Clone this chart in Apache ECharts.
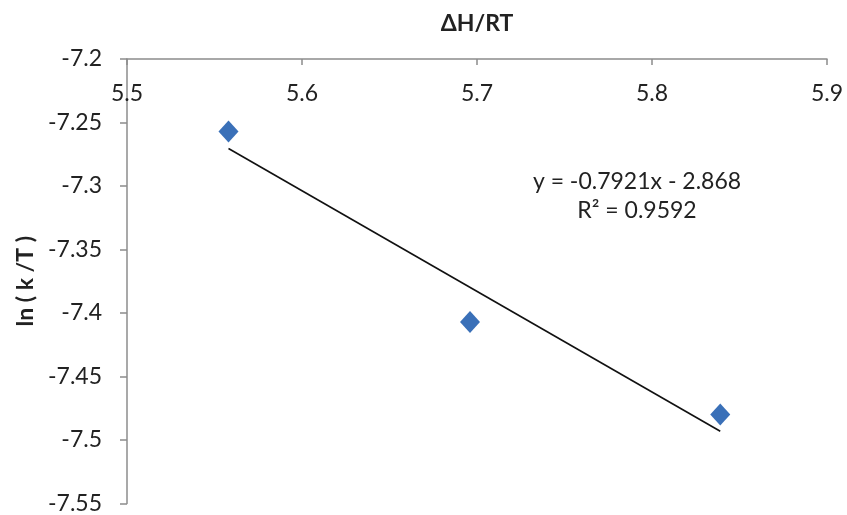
<!DOCTYPE html>
<html>
<head>
<meta charset="utf-8">
<script src="https://cdn.jsdelivr.net/npm/echarts@6/dist/echarts.min.js"></script>
<style>html,body{margin:0;padding:0;background:#fff;}#c{width:847px;height:515px;}</style>
</head>
<body>
<div id="c"></div>
<script>
var xValues = [5.558, 5.696, 5.839];
var yValues = [-7.257, -7.407, -7.480];
var trendSlope = -0.7921;
var trendIntercept = -2.868;
var equationText = 'y = -0.7921x - 2.868';
var r2Text = 'R² = 0.9592';

var pts = xValues.map(function (x, i) { return [x, yValues[i]]; });
var xMin = Math.min.apply(null, xValues), xMax = Math.max.apply(null, xValues);
var trend = [[xMin, trendSlope * xMin + trendIntercept], [xMax, trendSlope * xMax + trendIntercept]];

var FONT = 'Lato, "Open Sans", sans-serif';
var FS = 23;
var chart = echarts.init(document.getElementById('c'), null, {renderer: 'canvas'});
chart.setOption({
  animation: false,
  backgroundColor: '#fff',
  grid: {left: 127, top: 59, right: 20, bottom: 9, containLabel: false},
  xAxis: {
    type: 'value', position: 'top', min: 5.5, max: 5.9, interval: 0.1,
    name: 'ΔH/RT', nameLocation: 'middle', nameGap: 24,
    nameTextStyle: {fontFamily: FONT, fontWeight: 'bold', fontSize: FS, color: '#222'},
    axisLine: {show: true, lineStyle: {color: '#8c8c8c', width: 1.5}},
    axisTick: {show: true, inside: true, length: 6, lineStyle: {color: '#8c8c8c', width: 1.5}},
    axisLabel: {inside: true, margin: 23, fontFamily: FONT, fontSize: FS, color: '#222',
      formatter: function (v) { return v.toFixed(1); }},
    splitLine: {show: false}
  },
  yAxis: {
    type: 'value', min: -7.55, max: -7.2, interval: 0.05,
    name: 'ln ( k /T )', nameLocation: 'middle', nameGap: 88, nameRotate: 90,
    nameTextStyle: {fontFamily: FONT, fontWeight: 'bold', fontSize: FS, color: '#222'},
    axisLine: {show: true, lineStyle: {color: '#8c8c8c', width: 1.5}},
    axisTick: {show: true, length: 7, lineStyle: {color: '#8c8c8c', width: 1.5}},
    axisLabel: {margin: 25, fontFamily: FONT, fontSize: FS, color: '#222',
      formatter: function (v) { return String(parseFloat(v.toFixed(2))); }},
    splitLine: {show: false}
  },
  series: [
    {
      type: 'line', data: trend, symbol: 'none', silent: true,
      lineStyle: {color: '#111', width: 1.6}, z: 2
    },
    {
      type: 'scatter', data: pts, symbol: 'diamond', symbolSize: [20, 22],
      itemStyle: {color: '#3a70b8', opacity: 1}, z: 3
    }
  ],
  graphic: [
    {type: 'text', x: 637, y: 170, style: {text: equationText, font: FS + 'px ' + FONT, fill: '#222', align: 'center', textAlign: 'center'}},
    {type: 'text', x: 637, y: 199, style: {text: r2Text, font: FS + 'px ' + FONT, fill: '#222', align: 'center', textAlign: 'center'}}
  ]
});
</script>
</body>
</html>
